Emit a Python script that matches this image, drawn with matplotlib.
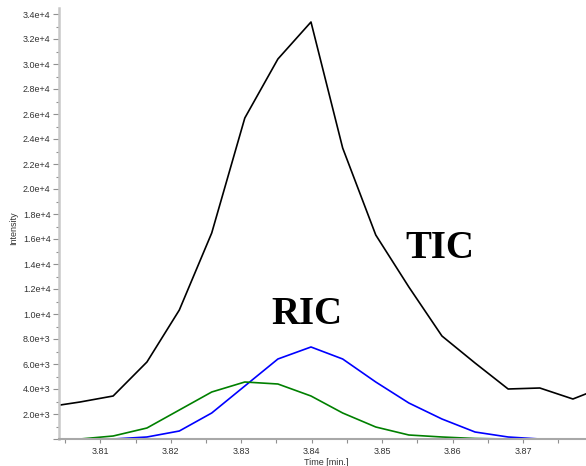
import numpy as np
import matplotlib
matplotlib.use("Agg")
import matplotlib.pyplot as plt
from matplotlib.ticker import MultipleLocator, FuncFormatter

# retention time [min]
time_min = [3.8024, 3.8071, 3.8118, 3.8166, 3.8212, 3.8258, 3.8305, 3.8352, 3.8399,
            3.8444, 3.8491, 3.8538, 3.8585, 3.8632, 3.8679, 3.8724, 3.8771, 3.8818]

# total ion current
tic = [2560, 2960, 3440, 6160, 10320, 16480, 25680, 30400, 33360,
       23280, 16320, 12160, 8240, 6080, 4000, 4080, 3200, 4240]

# reconstructed ion currents
ric_blue = [0, 0, 0, 160, 640, 2080, 4240, 6400, 7360,
            6400, 4560, 2880, 1600, 560, 160, 0, 0, 0]
ric_green = [0, 0, 240, 880, 2320, 3760, 4560, 4400, 3440,
             2080, 960, 320, 160, 40, 0, 0, 0, 0]


def sci_fmt(v, pos):
    if v <= 0:
        return ""
    exp = int(np.floor(np.log10(v)))
    return "%.1fe+%d" % (v / 10**exp, exp)


def main():
    plt.rcParams['font.family'] = ['Liberation Sans', 'DejaVu Sans']
    fig = plt.figure(figsize=(5.86, 4.66), dpi=100)
    ax = fig.add_axes([59 / 586, 27 / 466, 1 - 59 / 586, (439 - 8) / 466])

    ax.plot(time_min, tic, color='black', lw=1.2)
    ax.plot(time_min, ric_blue, color='#0000ff', lw=1.2)
    ax.plot(time_min, ric_green, color='#008000', lw=1.2)

    ax.set_xlim(3.80411, 3.87896)
    ax.set_ylim(0, 34480)

    ax.xaxis.set_major_locator(MultipleLocator(0.01))
    ax.xaxis.set_minor_locator(MultipleLocator(0.005))
    ax.xaxis.set_major_formatter(FuncFormatter(lambda v, p: "%.2f" % v))
    ax.yaxis.set_major_locator(MultipleLocator(2000))
    ax.yaxis.set_minor_locator(MultipleLocator(1000))
    ax.yaxis.set_major_formatter(FuncFormatter(sci_fmt))

    ax.tick_params(axis='both', which='both', colors='#909090',
                   labelcolor='#333333', labelsize=6.5, width=0.8)
    ax.tick_params(axis='x', which='major', length=3, pad=3)
    ax.tick_params(axis='x', which='minor', length=3)
    ax.tick_params(axis='y', which='major', length=4, pad=2)
    ax.tick_params(axis='y', which='minor', length=2.5)

    for side in ('top', 'right'):
        ax.spines[side].set_visible(False)
    ax.spines['left'].set_color('#c8c8c8')
    ax.spines['left'].set_linewidth(1.8)
    ax.spines['bottom'].set_color('#a8a8a8')
    ax.spines['bottom'].set_linewidth(1.5)

    fig.text(14 / 586, 1 - 228 / 466, 'Intensity', rotation=90, fontsize=6.5,
             color='#333333', ha='center', va='center')
    fig.text(326 / 586, 1 - 462.5 / 466, 'Time [min.]', fontsize=6.5,
             color='#333333', ha='center', va='center')

    ax.text(3.8582, 15200, 'TIC', fontsize=28, fontweight='bold',
            family='Liberation Serif', ha='center', va='center')
    ax.text(3.8393, 9920, 'RIC', fontsize=28, fontweight='bold',
            family='Liberation Serif', ha='center', va='center')

    fig.savefig("out.png", dpi=100)


if __name__ == "__main__":
    main()
